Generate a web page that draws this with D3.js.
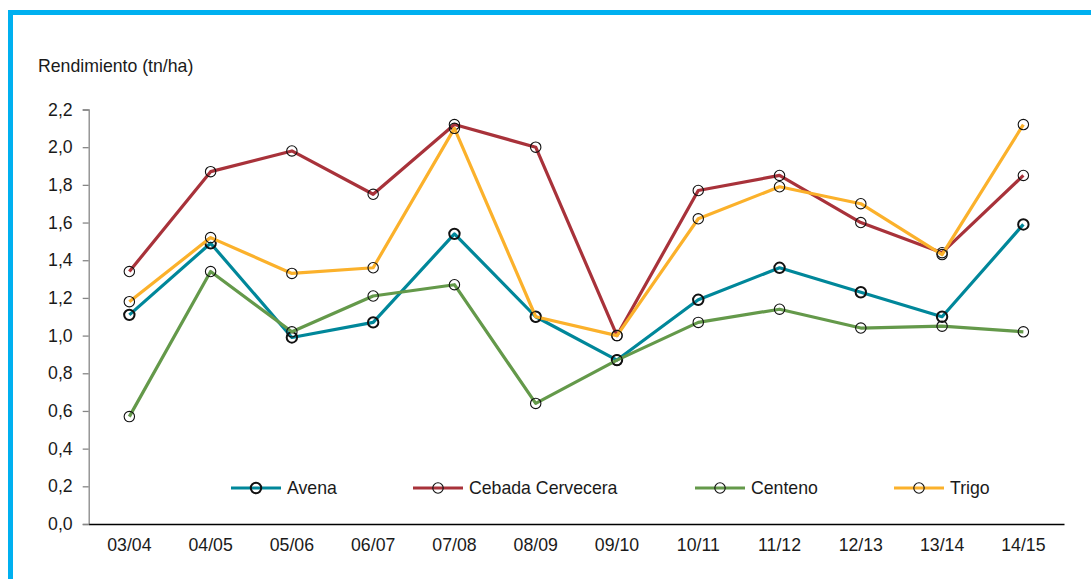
<!DOCTYPE html>
<html>
<head>
<meta charset="utf-8">
<script src="https://cdn.jsdelivr.net/npm/d3@7"></script>
<style>
  html, body { margin: 0; padding: 0; background: #fff; }
  svg { display: block; }
  text { font-family: "Liberation Sans", Arial, sans-serif; fill: #1a1a1a; }
</style>
</head>
<body>
<svg id="chart" width="1091" height="579"></svg>
<script>
const categories = ["03/04","04/05","05/06","06/07","07/08","08/09","09/10","10/11","11/12","12/13","13/14","14/15"];
const avena   = [1.11, 1.49, 0.99, 1.07, 1.54, 1.10, 0.87, 1.19, 1.36, 1.23, 1.10, 1.59];
const cebada  = [1.34, 1.87, 1.98, 1.75, 2.12, 2.00, 1.00, 1.77, 1.85, 1.60, 1.44, 1.85];
const centeno = [0.57, 1.34, 1.02, 1.21, 1.27, 0.64, 0.87, 1.07, 1.14, 1.04, 1.05, 1.02];
const trigo   = [1.18, 1.52, 1.33, 1.36, 2.10, 1.10, 1.00, 1.62, 1.79, 1.70, 1.43, 2.12];
const seriesNames = ["Avena", "Cebada Cervecera", "Centeno", "Trigo"];
const seriesColors = ["#00879a", "#a8323a", "#64994a", "#fbb12b"];
const yTicks = [0, 0.2, 0.4, 0.6, 0.8, 1.0, 1.2, 1.4, 1.6, 1.8, 2.0, 2.2];
const yTitle = "Rendimiento (tn/ha)";

const seriesData = [avena, cebada, centeno, trigo];
const svg = d3.select("#chart");
const FS = 17.7;

// frame border (top and left visible)
svg.append("rect").attr("x", 10.5).attr("y", 12.5).attr("width", 1200).attr("height", 700)
  .attr("fill", "none").attr("stroke", "#00b0f0").attr("stroke-width", 5);

const plotLeft = 88.7, plotRight = 1064, plotTop = 109.5, plotBottom = 524;
const x = d3.scaleBand().domain(categories).range([plotLeft, plotRight]);
const y = d3.scaleLinear().domain([0, 2.2]).range([plotBottom, plotTop]);
const fmt = v => d3.format(".1f")(v).replace(".", ",");

// Y axis
const yAxis = svg.append("g").attr("transform", `translate(${plotLeft},0)`)
  .call(d3.axisLeft(y).tickValues(yTicks).tickFormat(fmt).tickSize(6).tickPadding(10));
yAxis.select(".domain").attr("stroke", "#868686").attr("stroke-width", 1.3);
yAxis.selectAll(".tick line").attr("stroke", "#868686").attr("stroke-width", 1.3);
yAxis.selectAll(".tick text").attr("font-size", FS).attr("fill", "#1a1a1a")
  .attr("font-family", "Liberation Sans, Arial, sans-serif");

// X axis
const xAxis = svg.append("g").attr("transform", `translate(0,${plotBottom})`)
  .call(d3.axisBottom(x).tickSize(0).tickPadding(14));
xAxis.select(".domain").attr("stroke", "#000").attr("stroke-width", 1.5);
xAxis.selectAll(".tick text").attr("font-size", FS).attr("fill", "#1a1a1a")
  .attr("font-family", "Liberation Sans, Arial, sans-serif");

// Title
svg.append("text").attr("x", 38).attr("y", 72).attr("font-size", FS).text(yTitle);

// Series
const line = d3.line().x((d, i) => x(categories[i]) + x.bandwidth() / 2).y(d => y(d));
seriesData.forEach((vals, si) => {
  const g = svg.append("g");
  g.append("path").datum(vals).attr("d", line).attr("fill", "none")
    .attr("stroke", seriesColors[si]).attr("stroke-width", 3.2).attr("stroke-linejoin", "round");
  g.selectAll("circle").data(vals).join("circle")
    .attr("cx", (d, i) => x(categories[i]) + x.bandwidth() / 2)
    .attr("cy", d => y(d)).attr("r", 5.2)
    .attr("fill", "none").attr("stroke", "#111")
    .attr("stroke-width", si === 0 ? 2 : 1.1);
});

// Legend
const legendX = [231, 413, 695, 894];
const legendY = 488;
seriesNames.forEach((name, si) => {
  const g = svg.append("g").attr("transform", `translate(${legendX[si]},${legendY})`);
  g.append("line").attr("x1", 0).attr("x2", 50).attr("y1", 0).attr("y2", 0)
    .attr("stroke", seriesColors[si]).attr("stroke-width", 3.2);
  g.append("circle").attr("cx", 25).attr("cy", 0).attr("r", 5.2)
    .attr("fill", "none").attr("stroke", "#111").attr("stroke-width", si === 0 ? 2 : 1.1);
  g.append("text").attr("x", 56).attr("y", 6).attr("font-size", FS).text(name);
});
</script>
</body>
</html>
